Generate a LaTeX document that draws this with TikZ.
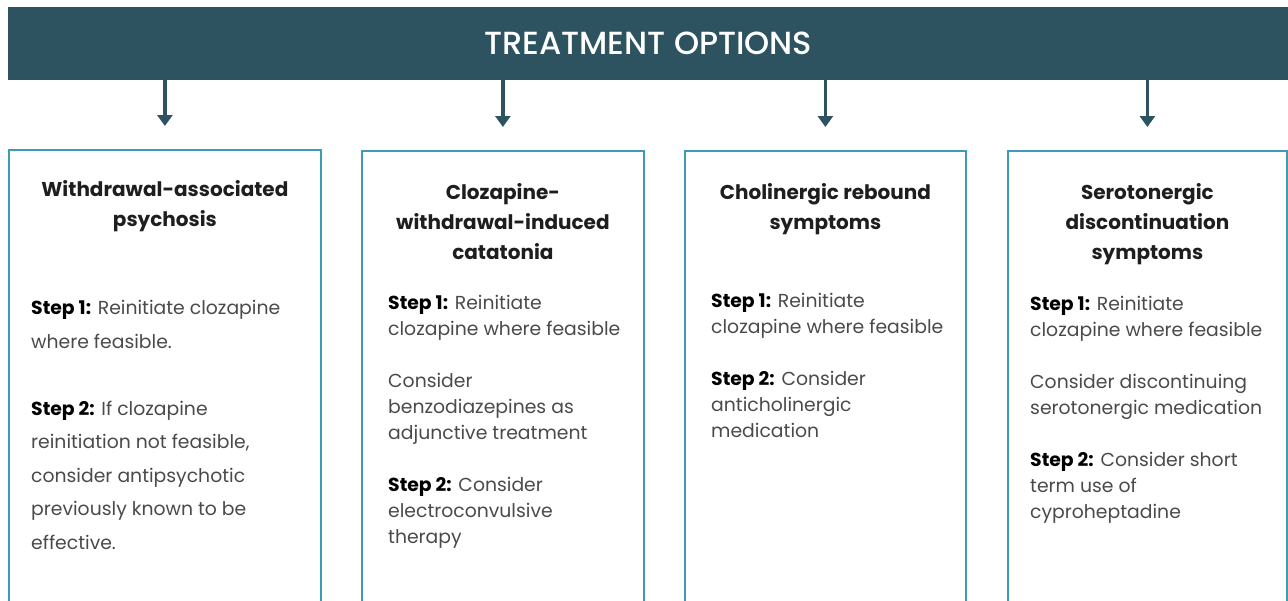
\documentclass[tikz,border=0pt]{standalone}
\usepackage{fontspec}
\setmainfont{Poppins}
\newfontfamily\headfont{Poppins Medium}
\usetikzlibrary{arrows.meta,positioning}
\definecolor{barcol}{HTML}{2D5360}
\definecolor{edgecol}{HTML}{3D9BB8}
\definecolor{textcol}{HTML}{4A4A4A}
\definecolor{headcol}{HTML}{1E1E1E}
\newcommand\steplabel[1]{{\color{black}\bfseries #1}}

\begin{document}
\begin{tikzpicture}[x=1pt,y=-1pt,
    option/.style={draw=edgecol,line width=1.8pt,minimum height=480pt,
      anchor=north west,inner sep=0pt},
    title/.style={align=center,text=headcol,inner sep=0pt,
      font=\fontsize{20}{30}\selectfont\bfseries},
    steps/.style={align=left,text=textcol,inner sep=0pt,
      font=\fontsize{18.8}{26}\selectfont},
    link/.style={draw=barcol,line width=3.6pt,
      -{Triangle[width=15pt,length=11pt]},shorten >=23pt}]
  \useasboundingbox (0,0) rectangle (1288,600);
  \clip (0,0) rectangle (1288,600);

  % header
  \node[fill=barcol,minimum width=1280pt,minimum height=73pt,anchor=north west,
    inner sep=0pt,text=white,font=\headfont\fontsize{32}{36}\selectfont]
    (hdr) at (8,7) {TREATMENT OPTIONS};

  % option boxes
  \node[option,minimum width=312pt] (b1) at (8,149) {};
  \node[option,minimum width=282pt] (b2) at (361,150) {};
  \node[option,minimum width=281pt] (b3) at (684,150) {};
  \node[option,minimum width=279pt] (b4) at (1007,150) {};

  % titles
  \node[title,below=31pt of b1.north] (t1) {Withdrawal-associated\\psychosis};
  \node[title,below=33pt of b2.north] (t2) {Clozapine-\\withdrawal-induced\\catatonia};
  \node[title,below=33pt of b3.north] (t3) {Cholinergic rebound\\symptoms};
  \node[title,below=33pt of b4.north] (t4) {Serotonergic\\discontinuation\\symptoms};

  % steps
  \node[steps,font=\fontsize{18.8}{33.5}\selectfont,
    below right=151pt and 23pt of b1.north west] (s1)
    {\steplabel{Step 1:} Reinitiate clozapine\\where feasible.\\[33.5pt]
     \steplabel{Step 2:} If clozapine\\reinitiation not feasible,\\
     consider antipsychotic\\previously known to be\\effective.};
  \node[steps,below right=145pt and 27pt of b2.north west] (s2)
    {\steplabel{Step 1:} Reinitiate\\clozapine where feasible\\[26pt]
     Consider\\benzodiazepines as\\adjunctive treatment\\[26pt]
     \steplabel{Step 2:} Consider\\electroconvulsive\\therapy};
  \node[steps,below right=143pt and 27pt of b3.north west] (s3)
    {\steplabel{Step 1:} Reinitiate\\clozapine where feasible\\[26pt]
     \steplabel{Step 2:} Consider\\anticholinergic\\medication};
  \node[steps,below right=146pt and 23pt of b4.north west] (s4)
    {\steplabel{Step 1:} Reinitiate\\clozapine where feasible\\[26pt]
     Consider discontinuing\\serotonergic medication\\[26pt]
     \steplabel{Step 2:} Consider short\\term use of\\cyproheptadine};

  % arrows
  \draw[link] (hdr.south -| b1.north) -- (b1.north);
  \draw[link] (hdr.south -| b2.north) -- (b2.north);
  \draw[link] (hdr.south -| b3.north) -- (b3.north);
  \draw[link] (hdr.south -| b4.north) -- (b4.north);
\end{tikzpicture}
\end{document}
